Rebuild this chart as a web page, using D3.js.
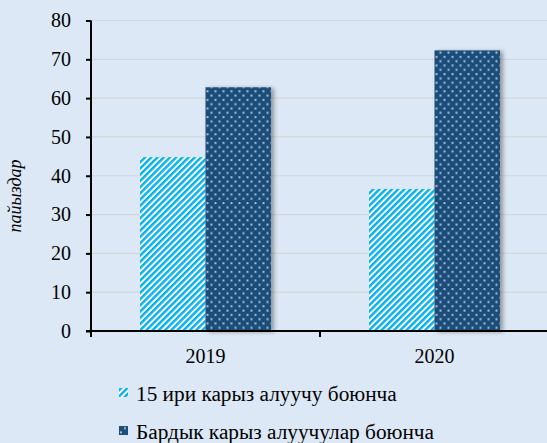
<!DOCTYPE html>
<html>
<head>
<meta charset="utf-8">
<script src="https://cdn.jsdelivr.net/npm/d3@7"></script>
</head>
<body style="margin:0;background:#dce8f5">
<div id="chart"></div>
<script>
// data
var years = ["2019", "2020"];
var seriesNames = ["15 ири карыз алуучу боюнча", "Бардык карыз алуучулар боюнча"];
var top15 = [44.8, 36.6];
var allBorrowers = [62.8, 72.3];
var yTicks = [0, 10, 20, 30, 40, 50, 60, 70, 80];

var FONT = "Liberation Serif";
var width = 547, height = 443;
var margin = {top: 20.5, right: -2, bottom: 112, left: 91};

var svg = d3.select("#chart").append("svg")
    .attr("width", width)
    .attr("height", height)
    .style("display", "block");

svg.append("rect").attr("width", width).attr("height", height).attr("fill", "#dce8f5");

var defs = svg.append("defs");

// diagonal stripes
var stripes = defs.append("pattern")
    .attr("id", "stripes")
    .attr("patternUnits", "userSpaceOnUse")
    .attr("width", 4.4).attr("height", 4.4)
    .attr("patternTransform", "rotate(45)");
stripes.append("rect").attr("width", 4.4).attr("height", 4.4).attr("fill", "#ffffff");
stripes.append("rect").attr("width", 2.4).attr("height", 4.4).attr("fill", "#00b0f0");

// dots
var dots = defs.append("pattern")
    .attr("id", "dots")
    .attr("patternUnits", "userSpaceOnUse")
    .attr("width", 8).attr("height", 8.6);
dots.append("rect").attr("width", 8).attr("height", 8.6).attr("fill", "#1f4e79");
dots.append("rect").attr("x", 1).attr("y", 1).attr("width", 2).attr("height", 2).attr("fill", "#9cc0e6");
dots.append("rect").attr("x", 5).attr("y", 5.3).attr("width", 2).attr("height", 2).attr("fill", "#9cc0e6");

var shadow = defs.append("filter").attr("id", "shadow")
    .attr("x", "-20%").attr("y", "-10%").attr("width", "150%").attr("height", "130%");
shadow.append("feDropShadow")
    .attr("dx", 3).attr("dy", 1).attr("stdDeviation", 2)
    .attr("flood-color", "#000").attr("flood-opacity", 0.35);

var plotW = width - margin.left - margin.right;
var plotH = height - margin.top - margin.bottom;

var g = svg.append("g").attr("transform", "translate(" + margin.left + "," + margin.top + ")");

var x = d3.scaleBand().domain(years).range([0, plotW]);
var y = d3.scaleLinear().domain([0, 80]).range([plotH, 0]);

// gridlines
g.selectAll(".grid").data(yTicks.slice(1)).enter().append("line")
    .attr("x1", 0).attr("x2", plotW)
    .attr("y1", function(d) { return y(d); })
    .attr("y2", function(d) { return y(d); })
    .attr("stroke", "#d3d6da").attr("stroke-width", 1.2);

var barW = 65.5;
var data = years.map(function(yr, i) {
    return {year: yr, values: [top15[i], allBorrowers[i]]};
});

var groups = g.selectAll(".year").data(data).enter().append("g")
    .attr("class", "year")
    .attr("transform", function(d) { return "translate(" + (x(d.year) + x.bandwidth() / 2) + ",0)"; });

groups.selectAll("rect")
    .data(function(d) { return d.values; })
    .enter().append("rect")
    .attr("x", function(d, i) { return i === 0 ? -barW : 0; })
    .attr("y", function(d) { return y(d); })
    .attr("width", barW)
    .attr("height", function(d) { return plotH - y(d); })
    .attr("fill", function(d, i) { return i === 0 ? "url(#stripes)" : "url(#dots)"; })
    .attr("filter", function(d, i) { return i === 1 ? "url(#shadow)" : null; });

// axes
var yAxis = d3.axisLeft(y).tickValues(yTicks).tickSize(5).tickPadding(15);
var yg = g.append("g").call(yAxis).attr("font-family", FONT).attr("font-size", 20);
yg.select(".domain").attr("stroke", "#000").attr("stroke-width", 2).attr("d", "M0," + (plotH + 6) + "V0");
yg.selectAll(".tick line").attr("stroke", "#000").attr("stroke-width", 2);
yg.selectAll("text").attr("font-family", FONT).attr("font-size", 20).attr("fill", "#000");

var xAxis = d3.axisBottom(x).tickSize(0).tickPadding(17.5);
var xg = g.append("g").attr("transform", "translate(0," + plotH + ")").call(xAxis)
    .attr("font-family", FONT).attr("font-size", 20);
xg.select(".domain").attr("stroke", "#000").attr("stroke-width", 2).attr("d", "M-5,0H" + plotW);
xg.selectAll(".tick line").remove();
xg.selectAll("text").attr("font-family", FONT).attr("font-size", 20).attr("fill", "#000");

// category boundary ticks
g.selectAll(".xsep").data(years.slice(1)).enter().append("line")
    .attr("x1", function(d) { return x(d); })
    .attr("x2", function(d) { return x(d); })
    .attr("y1", plotH).attr("y2", plotH + 6)
    .attr("stroke", "#000").attr("stroke-width", 2);

// y label
svg.append("text")
    .attr("transform", "translate(21,196) rotate(-90)")
    .attr("text-anchor", "middle")
    .attr("font-family", FONT)
    .attr("font-size", 18)
    .attr("font-style", "italic")
    .text("пайыздар");

// legend
var legend = svg.selectAll(".legend").data(seriesNames).enter().append("g")
    .attr("transform", function(d, i) { return "translate(119," + (401 + i * 38) + ")"; });
legend.append("rect")
    .attr("y", -13)
    .attr("width", 9).attr("height", 9)
    .attr("fill", function(d, i) { return i === 0 ? "url(#stripes)" : "url(#dots)"; });
legend.append("text")
    .attr("x", 17).attr("y", 0)
    .attr("font-family", FONT)
    .attr("font-size", 21.3)
    .text(function(d) { return d; });
</script>
</body>
</html>
